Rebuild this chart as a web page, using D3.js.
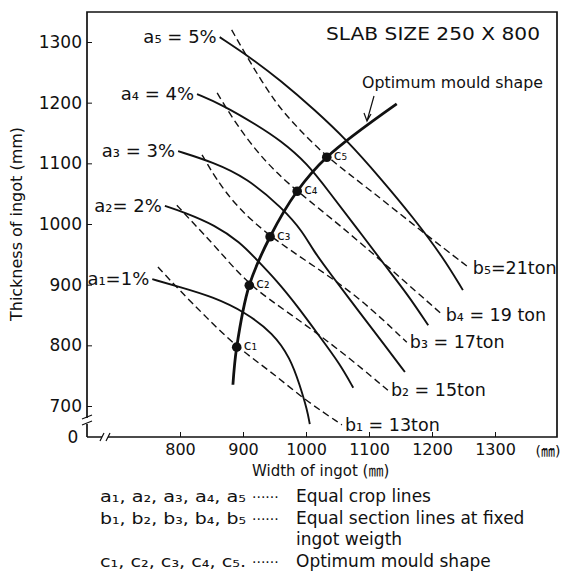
<!DOCTYPE html>
<html>
<head>
<meta charset="utf-8">
<script src="https://cdn.jsdelivr.net/npm/d3@7"></script>
<style>
  body { margin: 0; background: #fff; }
  svg { display: block; }
  text { font-family: "DejaVu Sans", "Noto Sans CJK JP", sans-serif; fill: #111; }
  .tick line { stroke: #111; }
</style>
</head>
<body>
<div id="chart"></div>
<script>
// equal crop lines (width mm, thickness mm)
var a1 = [[756,909],[800,896],[852,880],[903,855],[948,820],[975,779],[990,735],[1002,693],[1006,670]];
var a2 = [[776,1030],[805,1020],[856,998],[895,970],[922,941],[954,906],[986,865],[1022,814],[1054,769],[1075,730]];
var a3 = [[797,1120],[852,1102],[906,1076],[963,1026],[995,987],[1011,957],[1038,919],[1086,853],[1125,800],[1157,756]];
var a4 = [[827,1214],[868,1196],[922,1163],[959,1138],[1002,1100],[1038,1051],[1081,993],[1125,932],[1162,883],[1194,833]];
var a5 = [[863,1308],[911,1275],[959,1237],[1014,1188],[1065,1138],[1117,1077],[1170,1011],[1217,946],[1249,891]];

// equal section lines at fixed ingot weight
var b1 = [[765,929],[800,890],[840,848],[890,797],[943,758],[998,710],[1057,669]];
var b2 = [[795,1031],[816,1007],[859,960],[909,899],[975,852],[1054,792],[1130,726]];
var b3 = [[835,1114],[856,1076],[890,1028],[943,979],[1011,932],[1086,878],[1160,805]];
var b4 = [[859,1216],[887,1168],[922,1119],[954,1084],[986,1054],[1054,998],[1133,927],[1217,850]];
var b5 = [[882,1320],[911,1267],[952,1198],[990,1155],[1033,1110],[1102,1056],[1181,990],[1260,927]];

// optimum mould shape and the points c1..c5
var mould = [[884,735],[890,797],[910,899],[943,979],[986,1054],[1033,1110],[1144,1198]];
var cPoints = [[890,797],[910,899],[943,979],[986,1054],[1033,1110]];

var aLabels = ["a\u2081=1%", "a\u2082= 2%", "a\u2083 = 3%", "a\u2084 = 4%", "a\u2085 = 5%"];
var bLabels = ["b\u2081 = 13ton", "b\u2082 = 15ton", "b\u2083 = 17ton", "b\u2084 = 19 ton", "b\u2085=21ton"];
var cLabels = ["c\u2081", "c\u2082", "c\u2083", "c\u2084", "c\u2085"];

var xTicks = [800, 900, 1000, 1100, 1200, 1300];
var yTicks = [700, 800, 900, 1000, 1100, 1200, 1300];

var legendRows = [
  ["a\u2081, a\u2082, a\u2083, a\u2084, a\u2085", "Equal crop lines"],
  ["b\u2081, b\u2082, b\u2083, b\u2084, b\u2085", "Equal section lines at fixed"],
  ["", "ingot weigth"],
  ["c\u2081, c\u2082, c\u2083, c\u2084, c\u2085.", "Optimum mould shape"]
];

var svgWidth = 562;
var svgHeight = 575;

var frame = { left: 87, right: 557, top: 12, bottom: 437 };

var svg = d3.select("#chart")
  .append("svg")
  .attr("width", svgWidth)
  .attr("height", svgHeight);

var x = d3.scaleLinear().domain([800, 1300]).range([180, 495]);
var y = d3.scaleLinear().domain([700, 1300]).range([406, 42]);

// frame
svg.append("path")
  .attr("d", `M${frame.left},${frame.bottom} L${frame.left},${frame.top} L${frame.right},${frame.top} L${frame.right},${frame.bottom} L${frame.left},${frame.bottom}`)
  .attr("fill", "none")
  .attr("stroke", "#111")
  .attr("stroke-width", 1.7);

// axis breaks
svg.append("rect").attr("x", frame.left - 4).attr("y", 418).attr("width", 8).attr("height", 6).attr("fill", "#fff");
svg.append("path").attr("d", "M82,419 L92,415 M82,425 L92,421").attr("stroke", "#111").attr("fill", "none").attr("stroke-width", 1.2);
svg.append("rect").attr("x", 102).attr("y", frame.bottom - 4).attr("width", 6).attr("height", 8).attr("fill", "#fff");
svg.append("path").attr("d", "M100,441 L104,433 M106,441 L110,433").attr("stroke", "#111").attr("fill", "none").attr("stroke-width", 1.2);

var leftAxis = d3.axisLeft(y).tickValues(yTicks).tickFormat(d3.format("d")).tickSize(-5).tickPadding(5);
var bottomAxis = d3.axisBottom(x).tickValues(xTicks).tickFormat(d3.format("d")).tickSize(-5).tickPadding(7);

var gy = svg.append("g")
  .attr("transform", `translate(${frame.left},0)`)
  .call(leftAxis);
gy.select(".domain").remove();
gy.selectAll("text").style("font-size", "17px");

var gx = svg.append("g")
  .attr("transform", `translate(0,${frame.bottom})`)
  .call(bottomAxis);
gx.select(".domain").remove();
gx.selectAll("text").style("font-size", "16px");

svg.append("text").attr("x", 73).attr("y", 443).attr("text-anchor", "middle").style("font-size", "17px").text("0");
svg.append("text").attr("x", 548).attr("y", 456).attr("text-anchor", "middle").style("font-size", "14px").text("(\u339C)");

// axis titles
svg.append("text")
  .attr("transform", "translate(22,224) rotate(-90)")
  .attr("text-anchor", "middle")
  .style("font-size", "16px")
  .attr("textLength", 194)
  .attr("lengthAdjust", "spacingAndGlyphs")
  .text("Thickness of ingot (mm)");

svg.append("text")
  .attr("x", 252).attr("y", 476)
  .style("font-size", "15px")
  .text("Width of ingot (\u339C)");

var line = d3.line()
  .x(d => x(d[0]))
  .y(d => y(d[1]))
  .curve(d3.curveBasis);

var aCurves = [a1, a2, a3, a4, a5];
var bCurves = [b1, b2, b3, b4, b5];

svg.selectAll(".bline")
  .data(bCurves)
  .enter()
  .append("path")
  .attr("class", "bline")
  .attr("d", line)
  .attr("fill", "none")
  .attr("stroke", "#111")
  .attr("stroke-width", 1.4)
  .attr("stroke-dasharray", "7,4");

svg.selectAll(".aline")
  .data(aCurves)
  .enter()
  .append("path")
  .attr("class", "aline")
  .attr("d", line)
  .attr("fill", "none")
  .attr("stroke", "#111")
  .attr("stroke-width", 1.9);

svg.selectAll(".alabel")
  .data(aCurves)
  .enter()
  .append("text")
  .attr("x", d => x(d[0][0]) - 3)
  .attr("y", d => y(d[0][1]) + 6)
  .attr("text-anchor", "end")
  .style("font-size", "18px")
  .text((d, i) => aLabels[i]);

svg.selectAll(".blabel")
  .data(bCurves)
  .enter()
  .append("text")
  .attr("x", d => x(d[d.length - 1][0]) + 3)
  .attr("y", d => y(d[d.length - 1][1]) + 6)
  .style("font-size", "17.5px")
  .text((d, i) => bLabels[i]);

// optimum mould shape
svg.append("path")
  .datum(mould)
  .attr("d", line.curve(d3.curveCatmullRom))
  .attr("fill", "none")
  .attr("stroke", "#111")
  .attr("stroke-width", 2.8);

svg.selectAll(".cdot")
  .data(cPoints)
  .enter()
  .append("circle")
  .attr("cx", d => x(d[0]))
  .attr("cy", d => y(d[1]))
  .attr("r", 4.8)
  .attr("fill", "#111");

svg.selectAll(".clabel")
  .data(cPoints)
  .enter()
  .append("text")
  .attr("x", d => x(d[0]) + 7)
  .attr("y", d => y(d[1]) + 3)
  .style("font-size", "14px")
  .text((d, i) => cLabels[i]);

svg.append("text")
  .attr("x", 326).attr("y", 40)
  .style("font-size", "18px")
  .attr("textLength", 214)
  .attr("lengthAdjust", "spacingAndGlyphs")
  .text("SLAB SIZE 250 X 800");

svg.append("text")
  .attr("x", 362).attr("y", 88)
  .style("font-size", "15.8px")
  .text("Optimum mould shape");

// pointer to the mould curve
svg.append("path")
  .attr("d", "M374,96 L367,121 M364,113 L367,121 L371,114")
  .attr("fill", "none")
  .attr("stroke", "#111")
  .attr("stroke-width", 1.2);

// legend
var legend = svg.append("g");
legendRows.forEach(function(row, i) {
  var ly = 502 + i * 21.5;
  if (row[0] !== "") {
    legend.append("text").attr("x", 100).attr("y", ly).style("font-size", "16px")
      .attr("textLength", 146).attr("lengthAdjust", "spacingAndGlyphs").text(row[0]);
    legend.append("text").attr("x", 252).attr("y", ly).style("font-size", "14px").text("\u00B7\u00B7\u00B7\u00B7\u00B7\u00B7");
  }
  legend.append("text").attr("x", 296).attr("y", ly).style("font-size", "17px").text(row[1]);
});
</script>
</body>
</html>
